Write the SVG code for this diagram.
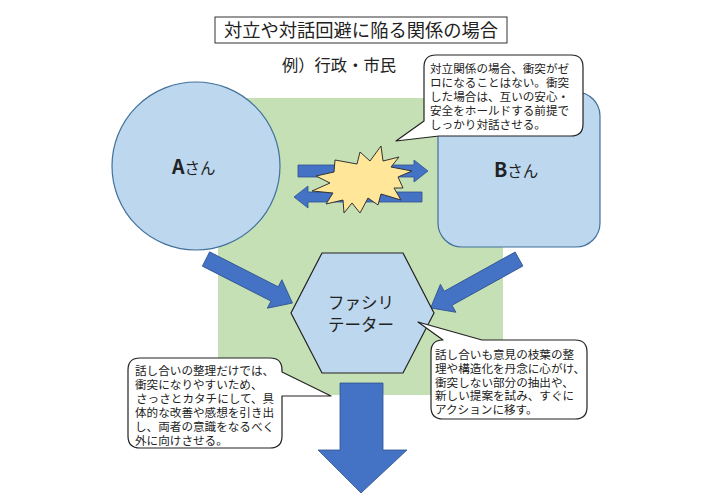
<svg xmlns="http://www.w3.org/2000/svg" width="720" height="498" viewBox="0 0 720 498">
<defs>
<style>
text{font-family:"Noto Sans CJK JP","Noto Sans",sans-serif;fill:#222;}
.blue{fill:#bdd7ee;stroke:#41719c;stroke-width:1.2;}
.arrow{fill:#4472c4;stroke:#2f528f;stroke-width:0.8;}
.callout{fill:#fff;stroke:#222;stroke-width:1.2;stroke-linejoin:round;}
.ct{font-size:11.6px;}
</style>
</defs>
<rect width="720" height="498" fill="#fff"/>
<g id="title">
<rect x="215" y="17" width="292" height="26" fill="#fff" stroke="#333" stroke-width="1"/>
<text x="361" y="36.5" font-size="18.3" text-anchor="middle">対立や対話回避に陥る関係の場合</text>
</g>
<g id="subtitle"><text x="339" y="71" font-size="16.3" text-anchor="middle">例）行政・市民</text></g>
<g id="field"><rect x="218" y="98" width="285" height="297" fill="#c5e0b4"/></g>
<g id="nodeA">
<circle class="blue" cx="196" cy="166" r="84"/>
<text x="172" y="173.5"><tspan font-size="19.5" font-weight="bold">A</tspan><tspan font-size="15.5">さん</tspan></text>
</g>
<g id="nodeB">
<rect class="blue" x="438" y="92" width="162" height="155" rx="24"/>
<text x="494" y="177"><tspan font-size="19.5" font-weight="bold">B</tspan><tspan font-size="15.5">さん</tspan></text>
</g>
<g id="connectors">
<polygon class="arrow" points="298,165 414,165 414,160 428,171 414,182 414,177 298,177"/>
<polygon class="arrow" points="422,192 308,192 308,186 294,197 308,208 308,202 422,202"/>
<polygon class="arrow" transform="translate(206,259) rotate(27)" points="0,-8 77,-8 77,-16 97,0 77,16 77,8 0,8"/>
<polygon class="arrow" transform="translate(519,259) rotate(151)" points="0,-8 81,-8 81,-16 101,0 81,16 81,8 0,8"/>
<polygon class="arrow" points="340,383 383,383 383,450 407,450 361,493 318,450 340,450"/>
</g>
<g id="clash">
<polygon fill="#ffe699" stroke="#333" stroke-width="1" stroke-linejoin="miter" points="335,160 357,164 360,152 370,161 381,146 383,161 399,157 391,167 412,171 398,177 403,188 394,188 401,200 381,194 378,205 368,198 360,213 352,203 344,213 343,200 326,204 333,193 312,191 330,183 316,176 334,172"/>
</g>
<g id="facilitator">
<polygon class="blue" style="stroke:#222" points="322,253 403,253 434,313 403,373 322,373 291,313"/>
<text x="361" y="309" font-size="16.5" text-anchor="middle">ファシリ</text>
<text x="361" y="331" font-size="16.5" text-anchor="middle">テーター</text>
</g>
<g id="note-top">
<path class="callout" d="M436,55 H571 Q583,55 583,67 V124 Q583,136 571,136 H439 L396,141 L424,121 V67 Q424,55 436,55 Z"/>
<text class="ct" x="430" y="72.5">対立関係の場合、衝突がゼ</text>
<text class="ct" x="430" y="86.5">ロになることはない。衝突</text>
<text class="ct" x="430" y="100.5">した場合は、互いの安心・</text>
<text class="ct" x="430" y="114.5">安全をホールドする前提で</text>
<text class="ct" x="430" y="128.5">しっかり対話させる。</text>
</g>
<g id="note-left">
<path class="callout" d="M140,358 H270 Q282,358 282,370 V372 L331,396 L282,396 V436 Q282,448 270,448 H140 Q128,448 128,436 V370 Q128,358 140,358 Z"/>
<text class="ct" x="135" y="374.5">話し合いの整理だけでは、</text>
<text class="ct" x="135" y="388.5">衝突になりやすいため、</text>
<text class="ct" x="136" y="402.5">さっさとカタチにして、具</text>
<text class="ct" x="135" y="416.5">体的な改善や感想を引き出</text>
<text class="ct" x="135" y="430.5">し、両者の意識をなるべく</text>
<text class="ct" x="135" y="444.5">外に向けさせる。</text>
</g>
<g id="note-right">
<path class="callout" d="M443,340 L418,322 L482,340 H575 Q587,340 587,352 V407 Q587,419 575,419 H443 Q431,419 431,407 V352 Q431,340 443,340 Z"/>
<text class="ct" x="435" y="359">話し合いも意見の枝葉の整</text>
<text class="ct" x="435" y="372.8">理や構造化を丹念に心がけ、</text>
<text class="ct" x="435" y="386.6">衝突しない部分の抽出や、</text>
<text class="ct" x="435" y="400.4">新しい提案を試み、すぐに</text>
<text class="ct" x="435" y="414.2">アクションに移す。</text>
</g>
</svg>
